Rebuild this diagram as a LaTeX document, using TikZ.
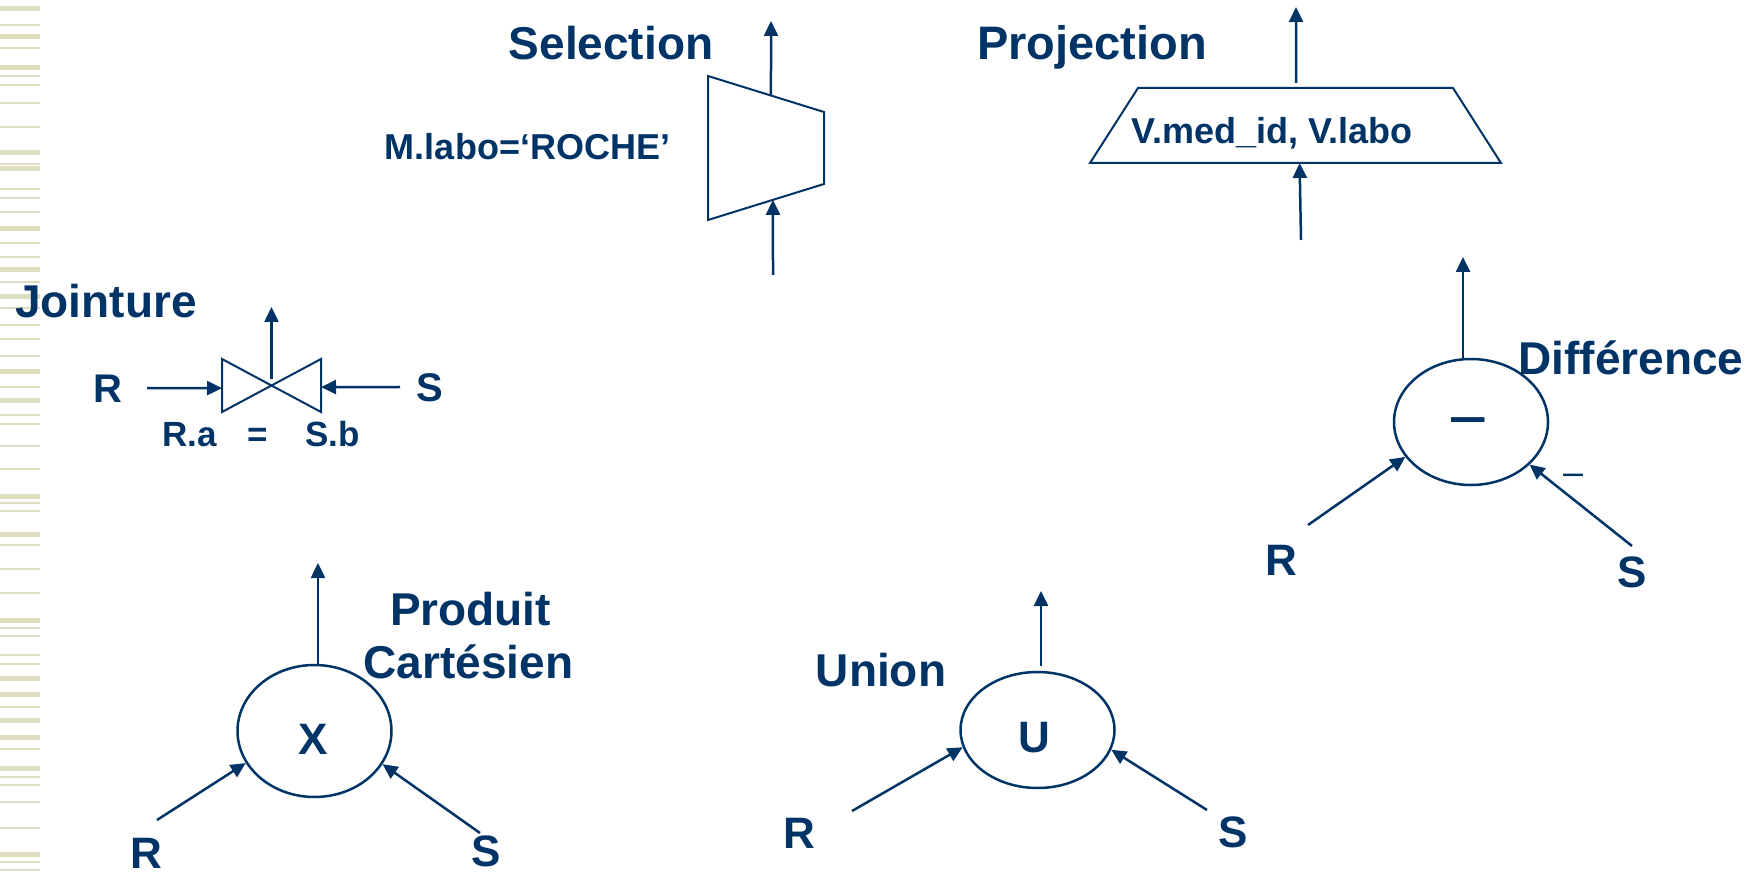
\documentclass[tikz,border=0pt]{standalone}
\usepackage{fontspec}
\setmainfont{Liberation Sans}
\usetikzlibrary{arrows.meta,shapes.geometric,calc}
\definecolor{navy}{RGB}{0,51,102}
\definecolor{stripecol}{RGB}{222,221,192}
\newcommand\myfs[1]{\fontsize{#1}{#1}\selectfont}
\begin{document}
\begin{tikzpicture}[x=1pt,y=-1pt,
  lbl/.style={text=navy,inner sep=0pt,anchor=base},
  arr/.style={draw=navy,line width=2.5pt,-{Triangle[length=15pt,width=14pt]}},
  opnode/.style={ellipse,draw=navy,line width=2.5pt,inner sep=0pt},
  shp/.style={draw=navy,line width=2pt,line join=miter}]
\useasboundingbox (0,0) rectangle (1757,874);
\fill[white] (0,0) rectangle (1757,874);
% left decorative stripes
\foreach \yy/\ww in {8.5/5,25/2,37/5,48/2,68/5,76/2,85/2,103/2,127/2,153/5,164/2,169/5,189/2,198/2,212/2,229/5,243/2,257/2,270/5,282/2,297/5,308/2,325/2,339/2,356/2,372/5,387/2,401/5,415/2,424/2,446/2,469/2,496/5,503/2,511/2,534/5,545/2,569/2,593/2,620/5,628/2,636/2,655/2,664/2,678/5,694/5,707/2,720/5,737/5,749/2,768/5,777/2,785/2,802/2,828/2,854/5,862/2,870/2}
  \draw[stripecol,line width=\ww pt] (0,\yy) -- (40,\yy);

% ---------- Selection ----------
\node[lbl,font=\bfseries\myfs{46}] (selT) at (611,60) {Selection};
\node[lbl,font=\bfseries\myfs{36}] (selC) at (527.5,160) {M.labo=‘ROCHE’};
\coordinate (sTL) at (708,76);
\coordinate (sTR) at (824,112);
\coordinate (sBR) at (824,184);
\coordinate (sBL) at (708,220);
\draw[shp] (sTL) -- (sTR) -- (sBR) -- (sBL) -- cycle;
\coordinate (selOut) at (771,21);
\coordinate (selIn) at (773,275);
\draw[arr] ($(sTL)!0.543!(sTR)$) -- (selOut);
\draw[arr] (selIn) -- ($(sBL)!0.56!(sBR)$);

% ---------- Projection ----------
\node[lbl,font=\bfseries\myfs{47}] (projT) at (1092,60) {Projection};
\coordinate (pTL) at (1138,88);
\coordinate (pTR) at (1453,88);
\coordinate (pBR) at (1501,163);
\coordinate (pBL) at (1090,163);
\draw[shp] (pTL) -- (pTR) -- (pBR) -- (pBL) -- cycle;
\node[lbl,font=\bfseries\myfs{36}] (projC) at (1272,144) {V.med\_id, V.labo};
\coordinate (projOut) at (1296,7);
\coordinate (projIn) at (1301,240);
\draw[arr,shorten <=5pt] ($(pTL)!0.502!(pTR)$) -- (projOut);
\draw[arr] (projIn) -- ($(pBL)!0.51!(pBR)$);

% ---------- Jointure ----------
\node[lbl,font=\bfseries\myfs{46}] (joinT) at (106,318) {Jointure};
\coordinate (jA) at (222,359);
\coordinate (jB) at (321,412);
\coordinate (jC) at (321,359);
\coordinate (jD) at (222,412);
\draw[shp] (jA) -- (jB) -- (jC) -- (jD) -- cycle;
\coordinate (jX) at ($(jA)!0.5!(jB)$);
\coordinate (jOut) at (271.5,307);
\draw[arr,shorten <=6pt] (jX) -- (jOut);
\node[lbl,font=\bfseries\myfs{40}] (jR) at (108,403) {R};
\node[lbl,font=\bfseries\myfs{40}] (jS) at (430,402) {S};
\coordinate (jRin) at (147,388);
\coordinate (jSin) at (400,387);
\draw[arr] (jRin) -- ($(jA)!0.55!(jD)$);
\draw[arr] (jSin) -- ($(jC)!0.53!(jB)$);
\node[lbl,font=\bfseries\myfs{35}] (jRa) at (189.5,447) {R.a};
\node[lbl,font=\bfseries\myfs{35}] (jEq) at (258,447) {=};
\node[lbl,font=\bfseries\myfs{35}] (jSb) at (332.5,447) {S.b};

% ---------- Difference ----------
\node[opnode,minimum width=154pt,minimum height=126pt] (dif) at (1471,422) {};
\node[lbl,font=\bfseries\myfs{50}] (difm) at (1468,434) {\scalebox{1.35}[1]{–}};
\node[lbl,font=\myfs{36}] (difs) at (1573,485) {–};
\node[lbl,font=\bfseries\myfs{46}] (difT) at (1631,375) {Différence};
\coordinate (difOut) at (1463,257);
\coordinate (difR) at (1308,525);
\coordinate (difS) at (1632,546);
\draw[arr] (dif.north -| difOut) -- (difOut);
\draw[arr] (difR) -- (dif.208);
\draw[arr] (difS) -- (dif.324);
\node[lbl,font=\bfseries\myfs{44}] (difRt) at (1281,575) {R};
\node[lbl,font=\bfseries\myfs{44}] (difSt) at (1632.5,587) {S};

% ---------- Produit Cartesien ----------
\node[opnode,minimum width=154pt,minimum height=132pt] (prod) at (314.5,731) {};
\node[lbl,font=\bfseries\myfs{44}] (prodX) at (313,754) {X};
\node[lbl,font=\bfseries\myfs{46}] (prodT1) at (470.5,625) {Produit};
\node[lbl,font=\bfseries\myfs{46}] (prodT2) at (468.5,678) {Cartésien};
\coordinate (prodOut) at (318,563);
\coordinate (prodR) at (157,820);
\coordinate (prodS) at (480,833);
\draw[arr] (prod.north -| prodOut) -- (prodOut);
\draw[arr] (prodR) -- (prod.205);
\draw[arr] (prodS) -- (prod.334);
\node[lbl,font=\bfseries\myfs{44}] (prodRt) at (146,868) {R};
\node[lbl,font=\bfseries\myfs{44}] (prodSt) at (486.5,866) {S};

% ---------- Union ----------
\node[opnode,minimum width=154pt,minimum height=116pt] (uni) at (1037.5,730) {};
\node[lbl,font=\bfseries\myfs{44}] (uniU) at (1034.5,752) {U};
\node[lbl,font=\bfseries\myfs{46}] (uniT) at (881,686) {Union};
\coordinate (uniOut) at (1041,591);
\coordinate (uniR) at (852,811);
\coordinate (uniS) at (1207,810);
\draw[arr,shorten <=5pt] (uni.north -| uniOut) -- (uniOut);
\draw[arr] (uniR) -- (uni.193);
\draw[arr] (uniS) -- (uni.345);
\node[lbl,font=\bfseries\myfs{44}] (uniRt) at (799.5,848) {R};
\node[lbl,font=\bfseries\myfs{44}] (uniSt) at (1233,847) {S};
\end{tikzpicture}
\end{document}
